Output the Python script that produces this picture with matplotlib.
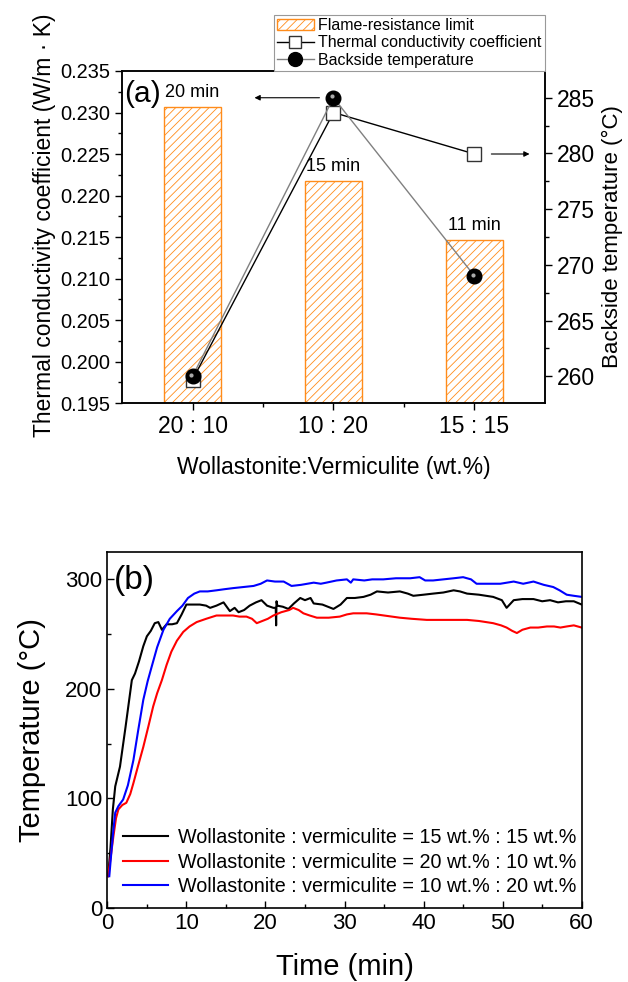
import numpy as np
import matplotlib
matplotlib.use("Agg")
import matplotlib.pyplot as plt
from matplotlib.patches import Patch
from matplotlib.lines import Line2D
from matplotlib.ticker import MultipleLocator, FixedLocator, FormatStrFormatter
from matplotlib.transforms import offset_copy

plt.rcParams['font.family'] = ['Liberation Sans', 'DejaVu Sans']
plt.rcParams['hatch.linewidth'] = 0.6

# (a) данные
ratios = ['20 : 10', '10 : 20', '15 : 15']
flame_limit = [20, 15, 11]                 # мин
conductivity = [0.1978, 0.2300, 0.2250]    # W/(m K)
backside = [260.0, 285.0, 269.0]           # °C

# (b) данные: время (мин) и температура (°C)
t_1515 = [0.1, 0.4, 0.7, 1.0, 1.6, 2.3, 3.1, 3.5, 4.0, 4.55, 5.0, 5.5, 6.0, 6.45, 6.9, 7.5,
          8.2, 8.8, 9.4, 10.0, 11.0, 11.7, 12.5, 13.0, 13.8, 14.7, 15.5, 16.1, 16.6, 17.3,
          18.0, 18.8, 19.5, 20.2, 21.0, 21.3, 21.35, 21.4, 21.5, 22.2, 22.9, 23.6, 24.4,
          25.0, 25.7, 26.1, 27.2, 28.6, 29.5, 30.3, 31.3, 32.4, 33.3, 34.1, 35.5, 37.0,
          38.0, 38.7, 40.0, 41.2, 42.5, 43.8, 44.6, 45.5, 47.0, 48.8, 49.9, 50.5, 51.4,
          52.5, 53.9, 55.0, 56.0, 57.0, 58.0, 59.0, 60.0]
T_1515 = [29, 55, 90, 111, 129, 165, 208, 214, 225, 239, 248, 253, 260, 261, 254, 259,
          259, 260, 268, 277, 277, 277, 276, 274, 276, 279, 271, 274, 270, 272,
          276, 279, 281, 276, 274, 274, 258, 280, 276, 275, 273, 278, 283,
          281, 283, 278, 277, 273, 277, 283, 283, 284, 286, 289, 288, 289,
          287, 285, 286, 287, 288, 290, 289, 287, 286, 284, 281, 274, 281,
          282, 282, 280, 281, 279, 280, 280, 277]

t_2010 = [0.1, 0.4, 0.76, 1.1, 1.4, 1.9, 2.4, 2.9, 3.3, 3.9, 4.55, 5.2, 5.8, 6.3, 6.9, 7.5,
          8.1, 8.8, 9.6, 10.4, 11.3, 12.5, 13.8, 14.8, 15.9, 16.7, 17.6, 18.3, 18.9, 19.6,
          20.3, 21.0, 22.0, 23.0, 23.5, 24.2, 24.8, 25.6, 26.5, 28.0, 29.4, 30.3, 31.1,
          32.0, 32.8, 34.0, 35.0, 36.0, 37.0, 38.5, 40.4, 42.0, 43.5, 45.5, 47.0, 48.8,
          49.8, 50.5, 51.2, 51.8, 52.5, 53.5, 54.5, 55.6, 56.5, 57.3, 58.1, 59.0, 60.0]
T_2010 = [29, 45, 65, 82, 90, 94, 96, 104, 114, 130, 147, 166, 184, 196, 208, 222,
          234, 244, 252, 257, 261, 264, 267, 267, 267, 266, 266, 264, 260, 262,
          264, 267, 270, 272, 274, 272, 269, 267, 265, 265, 266, 268, 269,
          269, 269, 268, 267, 266, 265, 264, 263, 263, 263, 263, 262, 260,
          258, 256, 253, 251, 254, 256, 256, 257, 257, 256, 257, 258, 256]

t_1020 = [0.25, 0.5, 0.75, 1.0, 1.4, 2.0, 2.6, 3.3, 3.9, 4.55, 5.1, 5.6, 6.3, 7.1, 7.9, 8.8,
          9.5, 10.2, 11.0, 11.7, 12.7, 13.8, 14.8, 15.9, 17.2, 18.5, 19.4, 20.2, 21.2,
          22.3, 23.3, 24.5, 25.3, 26.1, 27.0, 27.7, 29.0, 30.3, 30.8, 31.1, 32.5, 33.5,
          34.9, 36.5, 38.3, 39.5, 40.2, 41.2, 42.5, 43.8, 45.0, 46.0, 46.7, 48.0, 49.7,
          51.4, 52.6, 53.9, 55.2, 56.4, 57.2, 58.1, 59.0, 60.0]
T_1020 = [29, 50, 70, 87, 93, 99, 112, 135, 162, 190, 207, 220, 238, 254, 264, 271,
          276, 283, 287, 289, 289, 290, 291, 292, 293, 294, 296, 299, 298,
          298, 294, 295, 296, 297, 296, 297, 299, 300, 297, 300, 299, 300,
          300, 301, 301, 302, 299, 299, 300, 301, 302, 300, 296, 296, 296,
          298, 296, 298, 295, 293, 290, 286, 285, 284]

orange = '#FF8C1A'

fig = plt.figure(figsize=(6.28, 9.82), dpi=100)

# ---------- (a) ----------
rect_a = [0.1943, 0.5896, 0.6735, 0.3381]
x = np.arange(len(ratios))

# столбцы на отдельной скрытой оси (минуты)
axb = fig.add_axes(rect_a)
axb.set_xlim(-0.5, 2.5)
axb.set_ylim(0, 22.4)
axb.axis('off')
axb.bar(x, flame_limit, width=0.4, color='white', edgecolor=orange, hatch='////', lw=1)
for xi, m in zip(x, flame_limit):
    axb.annotate(f'{m} min', (xi, m), xytext=(0, 4), textcoords='offset points',
                 ha='center', va='bottom', fontsize=13)

ax = fig.add_axes(rect_a)
ax.patch.set_visible(False)
ax.set_xlim(-0.5, 2.5)
ax.set_ylim(0.195, 0.235)
ax.plot(x, conductivity, color='black', lw=1, marker='s', ms=9.5, mfc='white',
        mec='#333333', mew=1, zorder=3)
ax.yaxis.set_major_locator(MultipleLocator(0.005))
ax.yaxis.set_minor_locator(MultipleLocator(0.0025))
ax.yaxis.set_major_formatter(FormatStrFormatter('%.3f'))
ax.set_xticks(x, ratios)
ax.xaxis.set_minor_locator(FixedLocator([0.5, 1.5]))
ax.tick_params(axis='y', which='major', direction='out', length=5, width=1, labelsize=14.4)
ax.tick_params(axis='y', which='minor', direction='out', length=3, width=1)
ax.tick_params(axis='x', which='major', direction='out', length=5, width=1, labelsize=16.5)
ax.tick_params(axis='x', which='minor', direction='out', length=3, width=1)
ax.set_ylabel('Thermal conductivity coefficient (W/m · K)', fontsize=16.5)
ax.yaxis.set_label_coords(-0.156, 0.535)
ax.set_xlabel('Wollastonite:Vermiculite (wt.%)', fontsize=16.5, labelpad=13)
ax.text(0.005, 0.93, '(a)', transform=ax.transAxes, va='center', ha='left', fontsize=21.6)
ax.annotate('', xy=(2.41, conductivity[2]), xytext=(2.1, conductivity[2]),
            arrowprops=dict(arrowstyle='-|>', color='black', lw=0.8, mutation_scale=8))

ax2 = ax.twinx()
ax2.set_ylim(257.6, 287.4)
ax2.plot(x, backside, color='#808080', lw=1, marker='o', ms=10.5, mfc='black', mec='black', zorder=3)
hl = offset_copy(ax2.transData, fig=fig, x=-1.5, y=1.5, units='dots')
ax2.plot(x, backside, ls='none', marker='o', ms=3, color='#aaaaaa', mew=0, transform=hl, zorder=4)
ax2.yaxis.set_major_locator(MultipleLocator(5))
ax2.yaxis.set_minor_locator(MultipleLocator(2.5))
ax2.tick_params(axis='y', which='major', direction='out', length=5, width=1, labelsize=16.5)
ax2.tick_params(axis='y', which='minor', direction='out', length=3, width=1)
ax2.set_ylabel('Backside temperature (°C)', fontsize=16, labelpad=5)
ax2.annotate('', xy=(0.42, backside[1]), xytext=(0.92, backside[1]),
             arrowprops=dict(arrowstyle='-|>', color='black', lw=0.8, mutation_scale=8))
for a in (ax, ax2):
    for s in a.spines.values():
        s.set_linewidth(1.1)

handles = [Patch(facecolor='white', edgecolor=orange, hatch='////', lw=1),
           Line2D([], [], color='black', lw=1, marker='s', ms=9, mfc='white', mec='#333333'),
           Line2D([], [], color='#808080', lw=1, marker='o', ms=10, mfc='black', mec='black')]
leg = ax2.legend(handles, ['Flame-resistance limit', 'Thermal conductivity coefficient',
                           'Backside temperature'],
                 loc='lower right', bbox_to_anchor=(1.0, 1.0), borderaxespad=0,
                 fontsize=11.5, handlelength=2.3, handletextpad=0.3, labelspacing=0.15,
                 borderpad=0.2, fancybox=False, framealpha=1, edgecolor='#999999')
leg.get_frame().set_linewidth(0.8)

# ---------- (b) ----------
axt = fig.add_axes([0.1709, 0.0754, 0.7554, 0.3625])
axt.plot(t_1515, T_1515, color='black', lw=1.5,
         label='Wollastonite : vermiculite = 15 wt.% : 15 wt.%')
axt.plot(t_2010, T_2010, color='red', lw=1.5,
         label='Wollastonite : vermiculite = 20 wt.% : 10 wt.%')
axt.plot(t_1020, T_1020, color='blue', lw=1.5,
         label='Wollastonite : vermiculite = 10 wt.% : 20 wt.%')
axt.set_xlim(0, 60)
axt.set_ylim(0, 325)
axt.xaxis.set_major_locator(MultipleLocator(10))
axt.xaxis.set_minor_locator(MultipleLocator(5))
axt.yaxis.set_major_locator(MultipleLocator(100))
axt.yaxis.set_minor_locator(MultipleLocator(50))
axt.tick_params(which='major', direction='in', length=5, width=1, labelsize=16)
axt.tick_params(which='minor', direction='in', length=3, width=1)
axt.set_xlabel('Time (min)', fontsize=21, labelpad=14)
axt.set_ylabel('Temperature (°C)', fontsize=21, labelpad=14)
axt.text(0.013, 0.921, '(b)', transform=axt.transAxes, va='center', ha='left', fontsize=24)
for s in axt.spines.values():
    s.set_linewidth(1.2)
axt.legend(loc='lower left', bbox_to_anchor=(0.01, 0.003), borderaxespad=0.15, frameon=False,
           fontsize=14.2, handlelength=2.3, handletextpad=0.5, labelspacing=0.28)

fig.savefig('out.png', dpi=100)
